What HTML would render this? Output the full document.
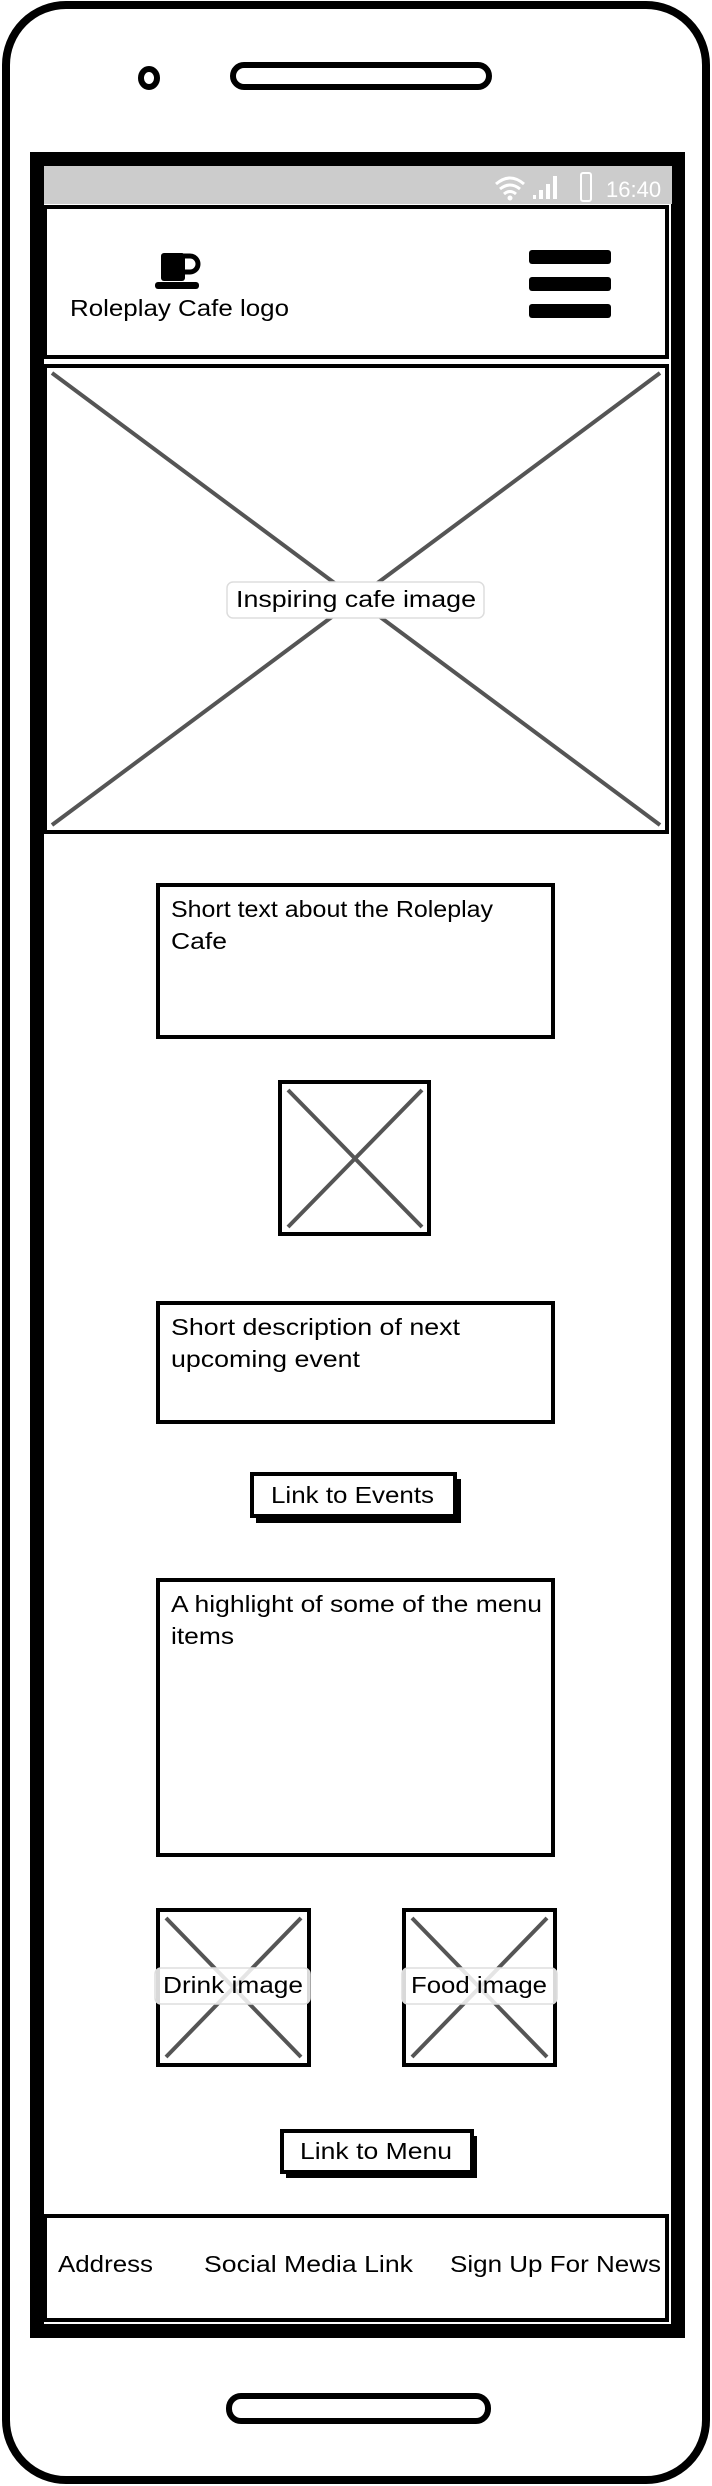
<!DOCTYPE html>
<html><head><meta charset="utf-8"><style>
html,body{margin:0;padding:0;background:#fff;}
svg{display:block;}
text{font-family:"Liberation Sans",sans-serif;fill:#000;}
</style></head><body>
<svg width="712" height="2486" viewBox="0 0 712 2486" xmlns="http://www.w3.org/2000/svg">
<rect x="6" y="5" width="700" height="2475" rx="60" ry="60" fill="#fff" stroke="#000" stroke-width="8"/>
<ellipse cx="149" cy="78" rx="8" ry="9" fill="none" stroke="#000" stroke-width="6"/>
<rect x="233" y="65" width="256" height="22" rx="11" fill="none" stroke="#000" stroke-width="6"/>
<rect x="37" y="159" width="641" height="2172" fill="#fff" stroke="#000" stroke-width="14"/>
<rect x="44" y="166" width="628" height="38" fill="#ccc"/>
<text x="606" y="197" font-size="22" style="fill:#fff">16:40</text>
<rect x="581" y="173" width="10" height="28" rx="2" fill="none" stroke="#fff" stroke-width="2"/>
<g fill="#fff"><rect x="533" y="195" width="3" height="4"/><rect x="539" y="190" width="4" height="9"/><rect x="546" y="184" width="4" height="15"/><rect x="553" y="176" width="4" height="23"/></g>
<path d="M496 184 Q510 172 524 184 M500 189 Q510 181 520 189 M504 194 Q510 189 516 194" stroke="#fff" stroke-width="3" fill="none"/>
<circle cx="510" cy="198" r="2.5" fill="#fff"/>
<rect x="45" y="207" width="622" height="150" fill="#fff" stroke="#000" stroke-width="4"/>
<rect x="161" y="253" width="24" height="28" rx="3" fill="#000"/>
<path d="M184 256 h6 a8 8 0 0 1 0 16 h-6" fill="none" stroke="#000" stroke-width="5"/>
<rect x="155" y="282" width="44" height="7" rx="3" fill="#000"/>
<text x="70" y="316" font-size="23" textLength="219" lengthAdjust="spacingAndGlyphs">Roleplay Cafe logo</text>
<rect x="529" y="250" width="82" height="14" rx="3" fill="#000"/>
<rect x="529" y="277" width="82" height="14" rx="3" fill="#000"/>
<rect x="529" y="304" width="82" height="14" rx="3" fill="#000"/>
<rect x="45" y="366" width="622" height="466" fill="#fff" stroke="#000" stroke-width="4"/>
<line x1="52" y1="373" x2="660" y2="825" stroke="#555" stroke-width="4"/>
<line x1="660" y1="373" x2="52" y2="825" stroke="#555" stroke-width="4"/>
<rect x="227" y="582" width="257" height="36" rx="6" fill="#fff" stroke="#ddd" stroke-width="1.5"/>
<text x="236" y="607" font-size="23" textLength="240" lengthAdjust="spacingAndGlyphs">Inspiring cafe image</text>
<rect x="158" y="885" width="395" height="152" fill="#fff" stroke="#000" stroke-width="4"/>
<text x="171" y="917" font-size="23" textLength="322" lengthAdjust="spacingAndGlyphs">Short text about the Roleplay</text>
<text x="171" y="949" font-size="23" textLength="56" lengthAdjust="spacingAndGlyphs">Cafe</text>
<rect x="280" y="1082" width="149" height="152" fill="#fff" stroke="#000" stroke-width="4"/>
<line x1="288" y1="1090" x2="422" y2="1227" stroke="#555" stroke-width="4"/>
<line x1="422" y1="1090" x2="288" y2="1227" stroke="#555" stroke-width="4"/>
<rect x="158" y="1303" width="395" height="119" fill="#fff" stroke="#000" stroke-width="4"/>
<text x="171" y="1335" font-size="23" textLength="289" lengthAdjust="spacingAndGlyphs">Short description of next</text>
<text x="171" y="1367" font-size="23" textLength="189" lengthAdjust="spacingAndGlyphs">upcoming event</text>
<rect x="256" y="1479" width="205" height="44" fill="#000"/>
<rect x="252" y="1474" width="203" height="42" fill="#fff" stroke="#000" stroke-width="4"/>
<text x="271" y="1503" font-size="23" textLength="163" lengthAdjust="spacingAndGlyphs">Link to Events</text>
<rect x="158" y="1580" width="395" height="275" fill="#fff" stroke="#000" stroke-width="4"/>
<text x="171" y="1612" font-size="23" textLength="371" lengthAdjust="spacingAndGlyphs">A highlight of some of the menu</text>
<text x="171" y="1644" font-size="23" textLength="63" lengthAdjust="spacingAndGlyphs">items</text>
<rect x="158" y="1910" width="151" height="155" fill="#fff" stroke="#000" stroke-width="4"/>
<line x1="166" y1="1918" x2="301" y2="2057" stroke="#555" stroke-width="4"/>
<line x1="301" y1="1918" x2="166" y2="2057" stroke="#555" stroke-width="4"/>
<rect x="155" y="1968" width="155" height="36" rx="6" fill="#fff" fill-opacity="0.85" stroke="#ddd" stroke-width="1.5"/>
<text x="163" y="1993" font-size="23" textLength="140" lengthAdjust="spacingAndGlyphs">Drink image</text>
<rect x="404" y="1910" width="151" height="155" fill="#fff" stroke="#000" stroke-width="4"/>
<line x1="412" y1="1918" x2="547" y2="2057" stroke="#555" stroke-width="4"/>
<line x1="547" y1="1918" x2="412" y2="2057" stroke="#555" stroke-width="4"/>
<rect x="402" y="1968" width="155" height="36" rx="6" fill="#fff" fill-opacity="0.85" stroke="#ddd" stroke-width="1.5"/>
<text x="411" y="1993" font-size="23" textLength="136" lengthAdjust="spacingAndGlyphs">Food image</text>
<rect x="286" y="2136" width="191" height="42" fill="#000"/>
<rect x="282" y="2131" width="190" height="41" fill="#fff" stroke="#000" stroke-width="4"/>
<text x="300" y="2159" font-size="23" textLength="152" lengthAdjust="spacingAndGlyphs">Link to Menu</text>
<rect x="45" y="2216" width="622" height="104" fill="#fff" stroke="#000" stroke-width="4"/>
<text x="58" y="2272" font-size="23" textLength="95" lengthAdjust="spacingAndGlyphs">Address</text>
<text x="204" y="2272" font-size="23" textLength="209" lengthAdjust="spacingAndGlyphs">Social Media Link</text>
<text x="450" y="2272" font-size="23" textLength="211" lengthAdjust="spacingAndGlyphs">Sign Up For News</text>
<rect x="229" y="2396" width="259" height="25" rx="12" fill="none" stroke="#000" stroke-width="6"/>
</svg>
</body></html>
